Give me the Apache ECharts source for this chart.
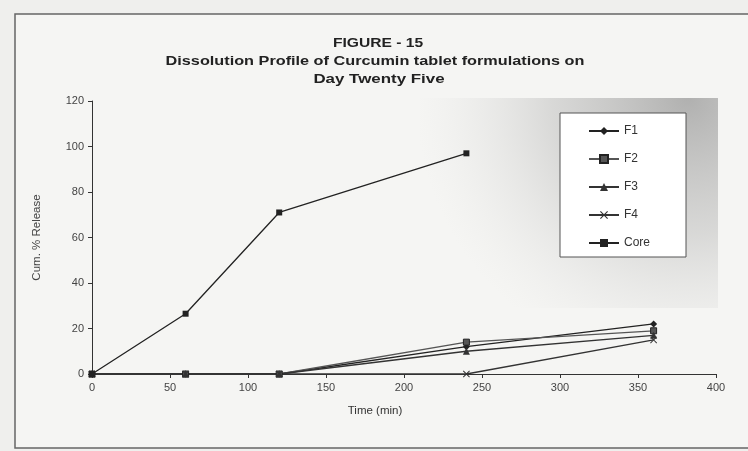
<!DOCTYPE html>
<html>
<head>
<meta charset="utf-8">
<script src="https://cdn.jsdelivr.net/npm/echarts@6/dist/echarts.min.js"></script>
<style>
html,body{margin:0;padding:0;background:#efefed;}
#c{width:748px;height:451px;}
</style>
</head>
<body>
<div id="c"></div>
<script>
var times = [0, 60, 120, 240, 360];
var seriesNames = ['F1', 'F2', 'F3', 'F4', 'Core'];
var f1 = [0, 0, 0, 12, 22];
var f2 = [0, 0, 0, 14, 19];
var f3 = [0, 0, 0, 10, 17];
var f4 = [0, 0, 0, 0, 15];
var core = [0, 26.5, 71, 97, null];
var xTicks = [0, 50, 100, 150, 200, 250, 300, 350, 400];
var yTicks = [0, 20, 40, 60, 80, 100, 120];

var titleLines = ['FIGURE - 15', 'Dissolution Profile of Curcumin tablet formulations on', 'Day Twenty Five'];
var xName = 'Time (min)';
var yName = 'Cum. % Release';

function pairs(vals){
  var out = [];
  for (var i = 0; i < times.length; i++) { if (vals[i] !== null) out.push([times[i], vals[i]]); }
  return out;
}
var symbols = [
  'diamond',
  'rect',
  'triangle',
  'path://M0,1L1,0L5,4L9,0L10,1L6,5L10,9L9,10L5,6L1,10L0,9L4,5Z',
  'rect'
];
var sizes = [7, 6, 7, 7, 6];
var dataSets = [f1, f2, f3, f4, core];
var colors = ['#222', '#555', '#333', '#333', '#222'];

var chart = echarts.init(document.getElementById('c'));
var series = seriesNames.map(function(n, i){
  return {
    name: n, type: 'line', data: pairs(dataSets[i]),
    symbol: symbols[i], symbolSize: sizes[i], showSymbol: true,
    lineStyle: {color: colors[i], width: 1.3},
    itemStyle: {color: colors[i], borderColor: i===1 ? '#222' : colors[i], borderWidth: i===1 ? 1 : 0},
    z: 3
  };
});

var titleFont = 'bold 13px "Liberation Sans", Arial';
chart.setOption({
  backgroundColor: '#efefed',
  animation: false,
  graphic: [
    {type: 'rect', shape: {x: 15, y: 14, width: 740, height: 434}, style: {fill: '#f5f5f3', stroke: '#666', lineWidth: 1.5}, z: -10},
    {type: 'rect', shape: {x: 420, y: 98, width: 298, height: 210},
     style: {fill: new echarts.graphic.RadialGradient(0.9, 0, 1.3, [
       {offset: 0, color: 'rgba(120,120,120,0.55)'},
       {offset: 0.5, color: 'rgba(150,150,150,0.3)'},
       {offset: 1, color: 'rgba(210,210,210,0)'}])}, z: -5},
    {type: 'text', x: 378, y: 43, scaleX: 1.2, style: {text: titleLines[0], font: titleFont, fill: '#222', align: 'center', verticalAlign: 'middle'}},
    {type: 'text', x: 375, y: 61, scaleX: 1.25, style: {text: titleLines[1], font: titleFont, fill: '#222', align: 'center', verticalAlign: 'middle'}},
    {type: 'text', x: 379, y: 79, scaleX: 1.3, style: {text: titleLines[2], font: titleFont, fill: '#222', align: 'center', verticalAlign: 'middle'}},
    {type: 'text', x: 375, y: 405, style: {text: xName, font: '11.5px "Liberation Sans", Arial', fill: '#333', align: 'center'}}
  ],
  legend: {
    orient: 'vertical', left: 560, top: 113,
    padding: [12, 36, 8, 28],
    itemGap: 16, itemWidth: 30, itemHeight: 10,
    backgroundColor: '#ffffff', borderColor: '#555', borderWidth: 1,
    textStyle: {fontFamily: '"Liberation Sans", Arial', fontSize: 12, color: '#333'},
    data: seriesNames
  },
  grid: {left: 92, right: 32, top: 101, bottom: 77},
  xAxis: {
    type: 'value', min: 0, max: 400, interval: 50,
    axisLine: {lineStyle: {color: '#333', width: 1}},
    axisTick: {show: true, length: 4, lineStyle: {color: '#333'}},
    axisLabel: {color: '#444', fontFamily: '"Liberation Sans", Arial', fontSize: 11, margin: 8,
      formatter: function(v){ return xTicks.indexOf(v) >= 0 ? String(v) : ''; }},
    splitLine: {show: false}
  },
  yAxis: {
    type: 'value', min: 0, max: 120, interval: 20,
    name: yName, nameLocation: 'middle', nameGap: 49,
    nameTextStyle: {color: '#444', fontFamily: '"Liberation Sans", Arial', fontSize: 11.5},
    axisLine: {show: true, lineStyle: {color: '#333', width: 1}},
    axisTick: {show: true, length: 4, lineStyle: {color: '#333'}},
    axisLabel: {color: '#444', fontFamily: '"Liberation Sans", Arial', fontSize: 11, margin: 8,
      formatter: function(v){ return yTicks.indexOf(v) >= 0 ? String(v) : ''; }},
    splitLine: {show: false}
  },
  series: series
});
</script>
</body>
</html>
